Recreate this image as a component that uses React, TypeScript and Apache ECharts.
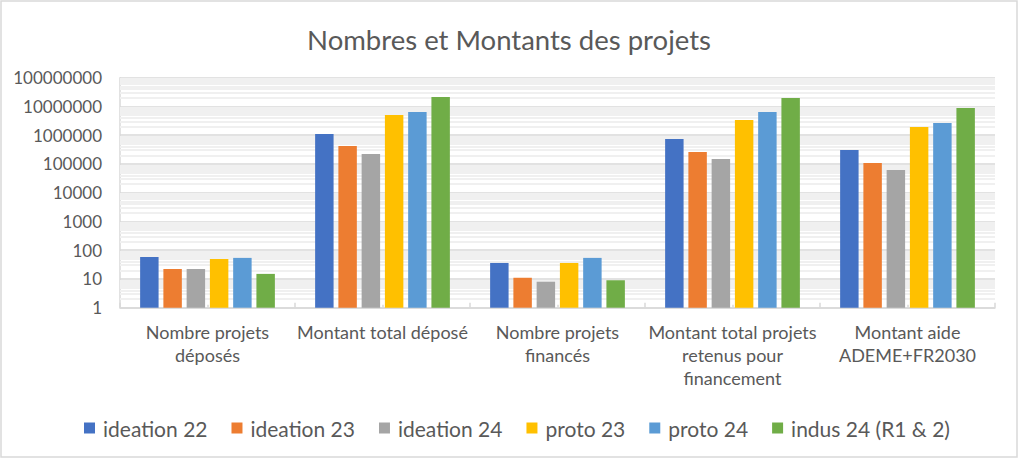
import React, { useEffect, useRef } from "react";
import * as echarts from "echarts";

const categories = [
  "Nombre projets\ndéposés",
  "Montant total déposé",
  "Nombre projets\nfinancés",
  "Montant total projets\nretenus pour\nfinancement",
  "Montant aide\nADEME+FR2030",
];

const seriesNames = ["ideation 22", "ideation 23", "ideation 24", "proto 23", "proto 24", "indus 24 (R1 & 2)"];
const seriesColors = ["#4472C4", "#ED7D31", "#A5A5A5", "#FFC000", "#5B9BD5", "#70AD47"];

const ideation22 = [58, 1100000, 36, 740000, 305000];
const ideation23 = [22, 420000, 11, 260000, 108000];
const ideation24 = [22, 222000, 8, 149000, 62000];
const proto23 = [49, 5050000, 36, 3380000, 1930000];
const proto24 = [54, 6400000, 54, 6400000, 2650000];
const indus24 = [15, 21300000, 9, 19700000, 8800000];

const seriesValues = [ideation22, ideation23, ideation24, proto23, proto24, indus24];

const yMin = 1;
const yMax = 100000000;
const minorMultipliers = [2, 3, 4, 5, 6, 7, 8, 9];

const FONT = "Lato, 'Open Sans', sans-serif";
const TEXT = "#595959";

export default function App() {
  const ref = useRef<HTMLDivElement>(null);

  useEffect(() => {
    document.body.style.margin = "0";
    if (!ref.current) return;
    const chart = echarts.init(ref.current, undefined, { renderer: "svg" });

    const minorLines: any[] = [];
    for (let p = 1; p < yMax; p *= 10) {
      for (const m of minorMultipliers) minorLines.push({ yAxis: m * p });
    }

    const series: any[] = seriesNames.map((name, i) => ({
      name,
      type: "bar",
      xAxisIndex: 0,
      yAxisIndex: 0,
      data: seriesValues[i],
      itemStyle: { color: seriesColors[i] },
      barGap: "26%",
      barCategoryGap: "23%",
      z: 2,
      ...(i === 0
        ? {
            markLine: {
              silent: true,
              z: 1,
              symbol: ["none", "none"],
              label: { show: false },
              lineStyle: { color: "#f0f0f0", width: 2, type: "solid" },
              emphasis: { disabled: true },
              data: minorLines,
            },
          }
        : {}),
    }));

    chart.setOption({
      animation: false,
      backgroundColor: "#ffffff",
      textStyle: { fontFamily: FONT },
      title: {
        text: "Nombres et Montants des projets",
        left: "center",
        top: 20,
        textStyle: { fontFamily: FONT, fontSize: 27.5, fontWeight: "normal", color: TEXT },
      },
      legend: {
        data: seriesNames,
        left: 79,
        top: 412,
        icon: "rect",
        itemWidth: 11,
        itemHeight: 11,
        itemGap: 24,
        textStyle: { fontFamily: FONT, fontSize: 21, color: TEXT, lineHeight: 22, padding: [0, 0, 0, 3] },
      },
      grid: { left: 120, right: 23, top: 77.7, bottom: 150.3, containLabel: false },
      xAxis: [
        {
          type: "category",
          data: categories,
          axisLine: { show: true, lineStyle: { color: "#d9d9d9", width: 1.5 } },
          axisTick: { show: true, inside: true, length: 5, lineStyle: { color: "#d9d9d9", width: 1.5 } },
          axisLabel: {
            interval: 0,
            margin: 13,
            fontFamily: FONT,
            fontSize: 18,
            lineHeight: 23,
            color: TEXT,
            align: "center",
          },
          splitLine: { show: false },
        },
        {
          type: "category",
          data: categories,
          position: "bottom",
          axisLine: { show: false },
          axisTick: { show: true, inside: true, alignWithLabel: true, length: 3, lineStyle: { color: "#d9d9d9", width: 1.5 } },
          axisLabel: { show: false },
          splitLine: { show: false },
        },
      ],
      yAxis: {
        type: "log",
        logBase: 10,
        min: yMin,
        max: yMax,
        interval: 1,
        axisLine: { show: true, lineStyle: { color: "#d9d9d9", width: 1.5 } },
        axisTick: { show: false },
        splitLine: { show: true, lineStyle: { color: "#d9d9d9", width: 1.5 } },
        axisLabel: {
          margin: 18,
          fontFamily: FONT,
          fontSize: 17,
          color: TEXT,
          formatter: (v: number) => String(Math.round(v)),
        },
      },
      graphic: [
        {
          type: "rect",
          silent: true,
          z: 100,
          shape: { x: 1, y: 1, width: 1016, height: 456 },
          style: { fill: "none", stroke: "#d9d9d9", lineWidth: 1.5 },
        },
      ],
      series,
    });

    return () => chart.dispose();
  }, []);

  return <div ref={ref} style={{ width: 1018, height: 458 }} />;
}
